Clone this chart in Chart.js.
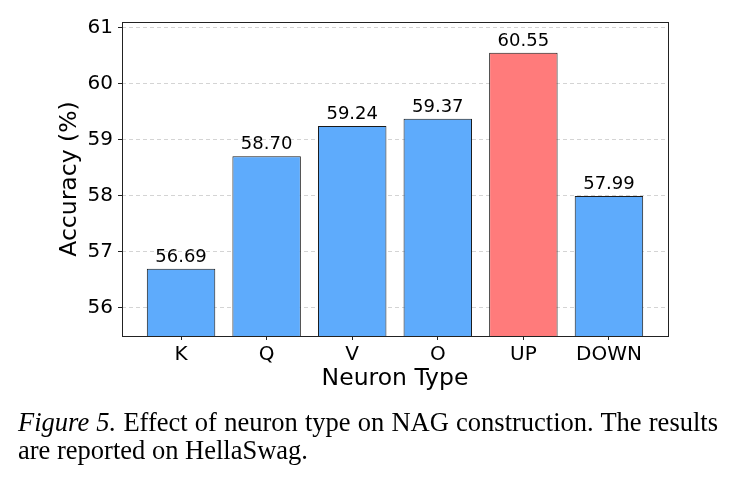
<!DOCTYPE html>
<html lang="en">
<head>
    <meta charset="UTF-8">
    <title>Neuron Type vs Accuracy</title>
    <script src="https://cdn.jsdelivr.net/npm/chart.js"></script>
    <style>
    body {
        margin: 0;
        background-color: #ffffff;
    }
    .figure {
        position: relative;
        width: 735px;
        height: 480px;
    }
    #chart {
        position: absolute;
        left: 0;
        top: 0;
    }
    .caption {
        position: absolute;
        left: 18px;
        width: 700px;
        font-family: "Liberation Serif", "Times New Roman", serif;
        font-size: 26.5px;
        line-height: 30px;
        color: #000;
        white-space: nowrap;
    }
    .caption.line1 {
        top: 407px;
        text-align: justify;
        text-align-last: justify;
        white-space: normal;
    }
    .caption.line2 {
        top: 435px;
    }
</style>
</head>
<body>
    <div class="figure">
        <canvas id="chart" width="735" height="480"></canvas>
        <div class="caption line1"><i>Figure 5.</i> Effect of neuron type on NAG construction. The results</div>
        <div class="caption line2">are reported on HellaSwag.</div>
    </div>

    <script>
    // chart data
    const categories = ['K', 'Q', 'V', 'O', 'UP', 'DOWN'];
    const accuracy = [56.69, 58.70, 59.24, 59.37, 60.55, 57.99];
    const yTicks = [56, 57, 58, 59, 60, 61];
    const highlighted = 'UP';

    const blue = '#5eabfc';
    const red = '#ff7b7b';

    Chart.defaults.font.family = 'DejaVu Sans';
    Chart.defaults.color = '#000';

    // box around the plot area
    const framePlugin = {
        id: 'frame',
        afterDatasetsDraw(chart) {
            const a = chart.chartArea;
            const ctx = chart.ctx;
            ctx.save();
            ctx.strokeStyle = '#222';
            ctx.lineWidth = 1;
            ctx.strokeRect(Math.round(a.left) + 0.5, Math.round(a.top) + 0.5,
                Math.round(a.right - a.left), Math.round(a.bottom - a.top));
            ctx.restore();
        }
    };

    // numbers above each bar
    const valueLabels = {
        id: 'valueLabels',
        afterDatasetsDraw(chart) {
            const ctx = chart.ctx;
            const meta = chart.getDatasetMeta(0);
            ctx.save();
            ctx.font = '18px "DejaVu Sans"';
            ctx.fillStyle = '#000';
            ctx.textAlign = 'center';
            ctx.textBaseline = 'alphabetic';
            meta.data.forEach((bar, i) => {
                ctx.fillText(accuracy[i].toFixed(2), bar.x, bar.y - 7);
            });
            ctx.restore();
        }
    };

    const ctx = document.getElementById('chart').getContext('2d');
    new Chart(ctx, {
        type: 'bar',
        data: {
            datasets: [{
                data: accuracy.map((v, i) => ({ x: i, y: v })),
                backgroundColor: categories.map(c => c === highlighted ? red : blue),
                borderColor: '#1a1a1a',
                borderWidth: 1,
                borderSkipped: false,
                categoryPercentage: 1,
                barPercentage: 0.8
            }]
        },
        options: {
            responsive: false,
            animation: false,
            layout: {
                padding: { left: 56, top: 22, right: 67, bottom: 85 }
            },
            plugins: {
                legend: { display: false },
                tooltip: { enabled: false }
            },
            scales: {
                x: {
                    type: 'linear',
                    min: -0.69,
                    max: 5.69,
                    offset: false,
                    afterBuildTicks: scale => {
                        scale.ticks = categories.map((c, i) => ({ value: i }));
                    },
                    afterFit: scale => { scale.height = 59; },
                    ticks: {
                        autoSkip: false,
                        maxRotation: 0,
                        padding: 3,
                        font: { size: 20 },
                        callback: v => categories[v]
                    },
                    grid: {
                        offset: false,
                        drawOnChartArea: false,
                        drawTicks: true,
                        tickLength: 4,
                        tickColor: '#222'
                    },
                    border: { display: false },
                    title: {
                        display: true,
                        text: 'Neuron Type',
                        font: { size: 23.5 },
                        padding: { top: 0, bottom: 2 }
                    }
                },
                y: {
                    min: 55.49,
                    max: 61.1,
                    afterBuildTicks: scale => {
                        scale.ticks = yTicks.map(v => ({ value: v }));
                    },
                    afterFit: scale => { scale.width = 66; },
                    ticks: {
                        padding: 5,
                        font: { size: 20 }
                    },
                    grid: {
                        color: '#d4d4d4',
                        drawTicks: true,
                        tickLength: 4,
                        tickColor: '#222',
                        tickBorderDash: []
                    },
                    border: { display: false, dash: [4, 3] },
                    title: {
                        display: true,
                        text: 'Accuracy (%)',
                        font: { size: 23.5 },
                        padding: { top: 0, bottom: 0 }
                    }
                }
            }
        },
        plugins: [framePlugin, valueLabels]
    });
</script>
</body>
</html>
